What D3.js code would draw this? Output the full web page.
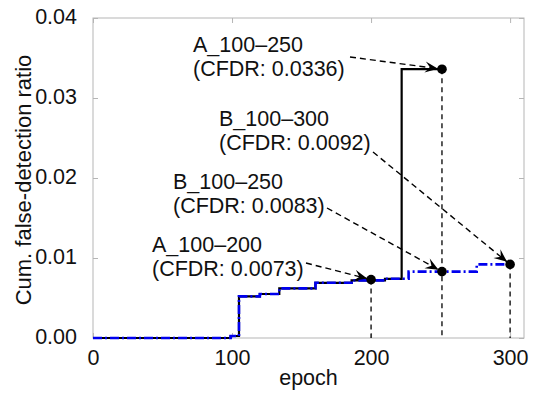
<!DOCTYPE html>
<html>
<head>
<meta charset="utf-8">
<script src="https://cdn.jsdelivr.net/npm/d3@7"></script>
<style>
  body { margin: 0; background: #fff; }
  svg text { font-family: "Liberation Sans", Arial, sans-serif; fill: #111; }
</style>
</head>
<body>
<svg id="chart" width="534" height="394"></svg>
<script>
// series A (black, solid) - step change points
var aEpoch = [0, 99, 105, 120, 134, 160, 186, 210, 222, 251]
var aValue = [0, 0.00025, 0.0052, 0.0055, 0.0062, 0.0069, 0.0072, 0.0074, 0.0336, 0.0336]
// series B (blue, dash-dot)
var bEpoch = [0, 99, 105, 120, 134, 160, 186, 210, 227, 276, 300]
var bValue = [0, 0.00025, 0.0052, 0.0055, 0.0062, 0.0069, 0.0072, 0.0074, 0.0083, 0.0092, 0.0092]

var xTicks = [0, 100, 200, 300]
var yTicks = [0, 0.01, 0.02, 0.03, 0.04]

// marked points + their labels
var noteName = ['A_100\u2013250', 'B_100\u2013300', 'B_100\u2013250', 'A_100\u2013200']
var noteCfdr = ['0.0336', '0.0092', '0.0083', '0.0073']
var noteEpoch = [251, 300, 251, 200]
var noteValue = [0.0336, 0.0092, 0.0083, 0.0073]
// text layout: [left, first baseline, arrow start x, arrow start y]
var notePos = [[193, 52, 350, 57], [219, 126, 373, 152], [173, 189, 327, 208], [152, 252, 306, 263]]

var margin = {top: 18, right: 10, bottom: 56, left: 93}
var svg = d3.select('#chart')
var w = 534 - margin.left - margin.right
var h = 394 - margin.top - margin.bottom
var fs = '21.5px'

var x = d3.scaleLinear().domain([0, 310]).range([0, w])
var y = d3.scaleLinear().domain([0, 0.04]).range([h, 0])

var defs = svg.append('defs')
defs.append('marker')
  .attr('id', 'arr')
  .attr('viewBox', '-14 -6 15 12')
  .attr('refX', 0).attr('refY', 0)
  .attr('markerWidth', 15).attr('markerHeight', 12)
  .attr('markerUnits', 'userSpaceOnUse')
  .attr('orient', 'auto')
  .append('path')
  .attr('d', 'M0,0 L-13,-5.5 L-8,0 L-13,5.5 Z')
  .attr('fill', '#000')

var g = svg.append('g').attr('transform', 'translate(' + margin.left + ',' + margin.top + ')')

// frame + ticks
var grey = '#b5b5b5'
g.append('rect').attr('width', w).attr('height', h)
  .attr('fill', 'none').attr('stroke', grey).attr('stroke-width', 1)

function styleAxis(a) {
  a.select('.domain').remove()
  a.selectAll('.tick line').attr('stroke', grey)
  a.selectAll('.tick text').style('font-size', fs).attr('fill', '#111')
}
g.append('g').attr('transform', 'translate(0,' + h + ')')
  .call(d3.axisBottom(x).tickValues(xTicks).tickSizeInner(-5).tickPadding(12))
  .call(styleAxis)
g.append('g')
  .call(d3.axisTop(x).tickValues(xTicks).tickSizeInner(-5).tickFormat(''))
  .call(styleAxis)
g.append('g')
  .call(d3.axisLeft(y).tickValues(yTicks).tickSizeInner(-5).tickPadding(16).tickFormat(d3.format('.2f')))
  .call(styleAxis)
  .selectAll('.tick text').attr('dy', '5.5')
g.append('g').attr('transform', 'translate(' + w + ',0)')
  .call(d3.axisRight(y).tickValues(yTicks).tickSizeInner(-5).tickFormat(''))
  .call(styleAxis)

// axis titles
svg.append('text')
  .attr('x', margin.left + w / 2).attr('y', 385)
  .attr('text-anchor', 'middle').style('font-size', fs)
  .text('epoch')
svg.append('text')
  .attr('transform', 'translate(31,' + (margin.top + h / 2 + 2) + ') rotate(-90)')
  .attr('text-anchor', 'middle').style('font-size', '22px')
  .text('Cum. false-detection ratio')

// lines
var line = d3.line().x(function(d) { return x(d[0]) }).y(function(d) { return y(d[1]) }).curve(d3.curveStepAfter)
var aData = d3.zip(aEpoch, aValue)
var bData = d3.zip(bEpoch, bValue)

// vertical guides, one per epoch from the highest marked point
var guides = d3.rollups(d3.zip(noteEpoch, noteValue), function(v) { return d3.max(v, function(d) { return d[1] }) }, function(d) { return d[0] })
g.selectAll('.guide').data(guides).enter().append('line')
  .attr('class', 'guide')
  .attr('x1', function(d) { return x(d[0]) }).attr('x2', function(d) { return x(d[0]) })
  .attr('y1', function(d) { return y(d[1]) }).attr('y2', h)
  .attr('stroke', '#000').attr('stroke-width', 1.3).attr('stroke-dasharray', '5,4')

g.append('path').datum(aData).attr('d', line)
  .attr('fill', 'none').attr('stroke', '#000').attr('stroke-width', 2.2)
g.append('path').datum(bData).attr('d', line)
  .attr('fill', 'none').attr('stroke', '#0000ee').attr('stroke-width', 2.6)
  .attr('stroke-dasharray', '9,3,2,3')

// dots
g.selectAll('.dot').data(noteEpoch).enter().append('circle')
  .attr('cx', function(d) { return x(d) })
  .attr('cy', function(d, i) { return y(noteValue[i]) })
  .attr('r', 4.8).attr('fill', '#000')

// annotations
noteName.forEach(function(name, i) {
  var p = notePos[i]
  var t = svg.append('text').style('font-size', fs)
  t.append('tspan').attr('x', p[0]).attr('y', p[1]).text(name)
  t.append('tspan').attr('x', p[0]).attr('y', p[1] + 24).text('(CFDR: ' + noteCfdr[i] + ')')
  var ex = margin.left + x(noteEpoch[i]), ey = margin.top + y(noteValue[i])
  var dx = ex - p[2], dy = ey - p[3], len = Math.sqrt(dx * dx + dy * dy)
  svg.append('line')
    .attr('x1', p[2]).attr('y1', p[3])
    .attr('x2', ex - dx / len * 4).attr('y2', ey - dy / len * 4)
    .attr('stroke', '#000').attr('stroke-width', 1.4)
    .attr('stroke-dasharray', '6,4')
    .attr('marker-end', 'url(#arr)')
})
</script>
</body>
</html>
